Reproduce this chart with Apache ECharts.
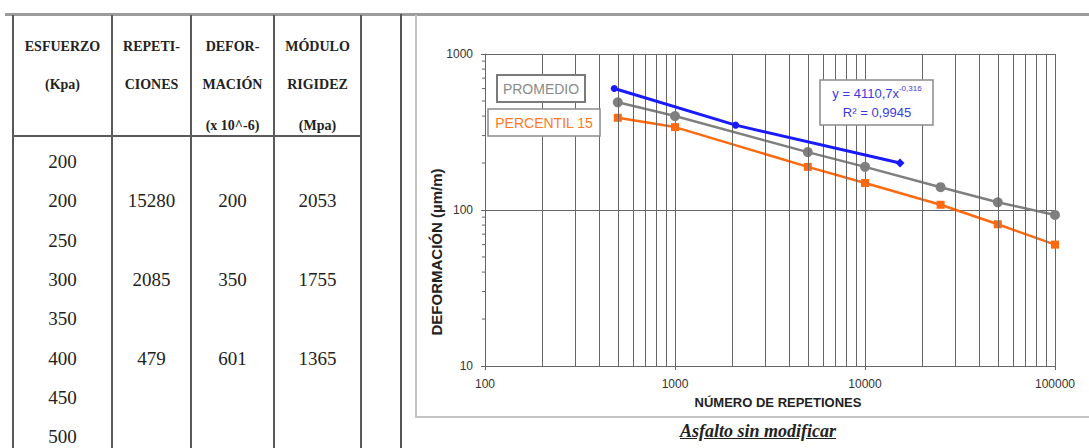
<!DOCTYPE html>
<html>
<head>
<meta charset="utf-8">
<script src="https://cdn.jsdelivr.net/npm/echarts@6/dist/echarts.min.js"></script>
<style>
  html, body { margin:0; padding:0; background:#fff; width:1089px; height:448px; overflow:hidden; }
  #chart { position:absolute; left:0; top:0; width:1089px; height:448px; }
  .ln { position:absolute; }
  .tx { position:absolute; text-align:center; white-space:nowrap; color:#222; }
  .hd { font-family:"Liberation Serif","DejaVu Serif",serif; font-weight:bold; font-size:14px; }
  .bd { font-family:"Liberation Serif","DejaVu Serif",serif; font-size:19px; }
  #caption { position:absolute; left:638px; width:240px; top:421px; text-align:center;
    font-family:"Liberation Serif",serif; font-weight:bold; font-style:italic; font-size:18px;
    text-decoration:underline; color:#222; }
</style>
</head>
<body>
<div id="chart"></div>
<div id="deco"></div>
<div id="caption">Asfalto sin modificar</div>
<script>
// ---------- table data ----------
const tableHeaders = [
  ['ESFUERZO', '(Kpa)', ''],
  ['REPETI-', 'CIONES', ''],
  ['DEFOR-', 'MACIÓN', '(x 10^-6)'],
  ['MÓDULO', 'RIGIDEZ', '(Mpa)']
];
const esfuerzo     = ['200', '200', '250', '300', '350', '400', '450', '500'];
const repeticiones = ['', '15280', '', '2085', '', '479', '', ''];
const deformacion  = ['', '200', '', '350', '', '601', '', ''];
const modulo       = ['', '2053', '', '1755', '', '1365', '', ''];

// ---------- chart data ----------
const repMedidas   = [500, 1000, 5000, 10000, 25000, 50000, 100000];
const promedio     = [490, 400, 235, 189, 140, 112, 93];
const percentil15  = [390, 340, 189, 149, 108, 81, 60];
const ajusteRep    = [479, 2085, 15280];
const ajusteDef    = [601, 350, 200];
const minorXGrid   = [200,300,400,500,600,700,800,900,2000,3000,4000,5000,6000,7000,8000,9000,
                      20000,30000,40000,50000,60000,70000,80000,90000];
const minorYTicks  = [20,30,40,50,60,70,80,90,200,300,400,500,600,700,800,900];
const xAxisName = 'NÚMERO DE REPETIONES';
const yAxisName = 'DEFORMACIÓN (µm/m)';
const labelProm = 'PROMEDIO';
const labelP15  = 'PERCENTIL 15';
const eqLine1 = 'y = 4110,7x';
const eqExp   = '-0,316';
const eqLine2 = 'R² = 0,9945';

// ---------- decorations & table (HTML) ----------
const deco = document.getElementById('deco');
function line(l, t, w, h, c) {
  const d = document.createElement('div');
  d.className = 'ln';
  d.style.cssText = `left:${l}px;top:${t}px;width:${w}px;height:${h}px;background:${c};`;
  deco.appendChild(d);
}
function text(s, cx, cy, cls, lh) {
  const d = document.createElement('div');
  d.className = 'tx ' + cls;
  d.style.cssText = `left:${cx - 60}px;width:120px;top:${cy - lh / 2}px;line-height:${lh}px;`;
  d.textContent = s;
  deco.appendChild(d);
}
// top rule, divider, chart frame
line(5, 13, 1084, 3, '#9c9c9c');
line(400, 14, 2, 434, '#555');
line(415, 15, 2, 403, '#c4c4c4');
line(415, 416, 674, 2, '#c4c4c4');
// table grid
const colX = [13, 112, 191, 274, 361];
colX.forEach(x => line(x - 1, 15, 2, 433, '#5a5a5a'));
line(12, 135, 350, 2, '#5a5a5a');
const headY = [47, 85, 126];
tableHeaders.forEach((h, c) => {
  const cx = (colX[c] + colX[c + 1]) / 2;
  h.forEach((s, r) => { if (s) text(s, cx, headY[r], 'hd', 18); });
});
[esfuerzo, repeticiones, deformacion, modulo].forEach((col, c) => {
  const cx = (colX[c] + colX[c + 1]) / 2;
  col.forEach((s, r) => { if (s) text(s, cx, 162 + r * 39.3, 'bd', 24); });
});

// ---------- chart ----------
const chart = echarts.init(document.getElementById('chart'), null, { renderer: 'svg' });
const FONT = '"Liberation Sans", Arial, sans-serif';
const gridColor = '#666';

function pairs(xs, ys) { return xs.map((x, i) => [x, ys[i]]); }

const blueData = pairs(ajusteRep, ajusteDef).map((p, i, a) =>
  i === a.length - 1 ? { value: p, symbol: 'diamond', symbolSize: 9 } : { value: p });

chart.setOption({
  animation: false,
  backgroundColor: 'transparent',
  grid: { left: 485, right: 34, top: 54, bottom: 82, containLabel: false },
  xAxis: {
    type: 'log', logBase: 10, min: 100, max: 100000,
    axisLine: { show: true, lineStyle: { color: gridColor, width: 1 } },
    axisTick: { show: true, length: 4, lineStyle: { color: gridColor } },
    splitLine: { show: true, lineStyle: { color: gridColor, width: 1 } },
    axisLabel: { fontFamily: FONT, fontSize: 12, color: '#333', margin: 12,
                 formatter: v => String(Math.round(v)) },
    name: xAxisName, nameLocation: 'middle', nameGap: 30,
    nameTextStyle: { fontFamily: FONT, fontWeight: 'bold', fontSize: 13, color: '#222',
                     padding: [0, 0, 0, 16] }
  },
  yAxis: {
    type: 'log', logBase: 10, min: 10, max: 1000,
    axisLine: { show: true, lineStyle: { color: gridColor, width: 1 } },
    axisTick: { show: true, length: 4, lineStyle: { color: gridColor } },
    splitLine: { show: true, lineStyle: { color: gridColor, width: 1 } },
    axisLabel: { fontFamily: FONT, fontSize: 12, color: '#333', margin: 12,
                 formatter: v => String(Math.round(v)) }
  },
  graphic: [
    { type: 'text', x: 436, y: 252, rotation: Math.PI / 2, z: 100,
      style: { text: yAxisName, x: 0, y: 0, align: 'center', verticalAlign: 'middle',
               font: 'bold 15px ' + FONT, fill: '#222' } },
    { type: 'rect', z: 100, shape: { x: 497, y: 75, width: 88, height: 27 },
      style: { fill: '#fff', stroke: '#7a7a7a', lineWidth: 2 } },
    { type: 'text', z: 101, x: 541, y: 89,
      style: { text: labelProm, align: 'center', verticalAlign: 'middle',
               font: '14px ' + FONT, fill: '#8a8a8a' } },
    { type: 'rect', z: 100, shape: { x: 488, y: 109, width: 112, height: 27 },
      style: { fill: '#fff', stroke: '#8a8a8a', lineWidth: 1.5 } },
    { type: 'text', z: 101, x: 544, y: 123,
      style: { text: labelP15, align: 'center', verticalAlign: 'middle',
               font: '14px ' + FONT, fill: '#ff7a22' } },
    { type: 'rect', z: 100, shape: { x: 820, y: 80, width: 113, height: 45 },
      style: { fill: '#fff', stroke: '#8a8a8a', lineWidth: 1.5 } },
    { type: 'text', z: 101, x: 877, y: 103,
      style: {
        text: '{b|' + eqLine1 + '}{s|' + eqExp + '}\n{b|' + eqLine2 + '}',
        align: 'center', verticalAlign: 'middle',
        rich: {
          b: { fontFamily: FONT, fontSize: 13, lineHeight: 19, fill: '#3a3adf', color: '#3a3adf' },
          s: { fontFamily: FONT, fontSize: 8, lineHeight: 9, verticalAlign: 'top', fill: '#3a3adf', color: '#3a3adf' }
        }
      } }
  ],
  series: [
    {
      name: 'minor-grid', type: 'line', data: [], silent: true,
      markLine: {
        silent: true, symbol: ['none', 'none'], label: { show: false },
        lineStyle: { color: gridColor, width: 1, type: 'solid' },
        emphasis: { disabled: true },
        data: minorXGrid.map(v => ({ xAxis: v }))
      }
    },
    {
      name: 'minor-ticks', type: 'custom', silent: true,
      data: minorYTicks.map(v => [100, v]),
      renderItem: (params, api) => {
        const p = api.coord([api.value(0), api.value(1)]);
        return { type: 'line', shape: { x1: p[0] - 3, y1: p[1], x2: p[0], y2: p[1] },
                 style: { stroke: gridColor, lineWidth: 1 } };
      }
    },
    {
      name: labelProm, type: 'line', data: pairs(repMedidas, promedio),
      symbol: 'circle', symbolSize: 10, z: 3,
      lineStyle: { color: '#7f7f7f', width: 2.5 },
      itemStyle: { color: '#7f7f7f' }
    },
    {
      name: labelP15, type: 'line', data: pairs(repMedidas, percentil15),
      symbol: 'rect', symbolSize: 8, z: 4,
      lineStyle: { color: '#ff6a10', width: 2.5 },
      itemStyle: { color: '#ff6a10' }
    },
    {
      name: 'ajuste', type: 'line', data: blueData,
      symbol: 'circle', symbolSize: 7, z: 5,
      lineStyle: { color: '#1a1aff', width: 3 },
      itemStyle: { color: '#1a1aff' }
    }
  ]
});
</script>
</body>
</html>
